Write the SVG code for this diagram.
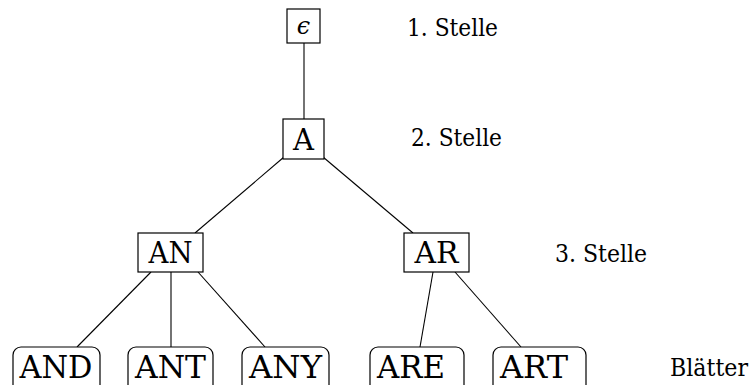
<svg xmlns="http://www.w3.org/2000/svg" width="754" height="385" viewBox="0 0 754 385">
<style>
  .box{fill:#fff;stroke:#000;stroke-width:1.2}
  .lt{fill:#000;text-anchor:middle}
  .in{font-size:29px}
  .lf{font-size:31px}
  .lbl{font-size:24px;fill:#000}
  .edge{stroke:#000;stroke-width:1.1;fill:none}
</style>
<rect width="754" height="385" fill="#fff"/>
<g id="connectors">
  <line class="edge" x1="304" y1="43" x2="304" y2="119"/>
  <line class="edge" x1="284" y1="157" x2="195" y2="233"/>
  <line class="edge" x1="323" y1="157" x2="413" y2="233"/>
  <line class="edge" x1="151" y1="272" x2="77" y2="347"/>
  <line class="edge" x1="171" y1="272" x2="171" y2="347"/>
  <line class="edge" x1="198" y1="272" x2="265" y2="347"/>
  <line class="edge" x1="433" y1="272" x2="420" y2="347"/>
  <line class="edge" x1="455" y1="272" x2="521" y2="347"/>
</g>
<g font-family="DejaVu Serif, serif">
<g id="eps">
  <rect class="box" x="287" y="9" width="33" height="34"/>
  <text class="lt" x="303.5" y="34" font-style="italic" font-size="24">ϵ</text>
</g>
<g id="A">
  <rect class="box" x="283" y="119" width="41" height="40"/>
  <text class="lt in" x="303.5" y="150">A</text>
</g>
<g id="AN">
  <rect class="box" x="138" y="233" width="65" height="39"/>
  <text class="lt in" x="170.5" y="263" textLength="44" lengthAdjust="spacingAndGlyphs">AN</text>
</g>
<g id="AR">
  <rect class="box" x="404" y="233" width="65" height="39"/>
  <text class="lt in" x="436.5" y="263" textLength="44" lengthAdjust="spacingAndGlyphs">AR</text>
</g>
<g id="AND">
  <rect class="box" x="13" y="347" width="87" height="46" rx="8"/>
  <text class="lt lf" x="56" y="378" textLength="73" lengthAdjust="spacingAndGlyphs">AND</text>
</g>
<g id="ANT">
  <rect class="box" x="128" y="347" width="85" height="46" rx="8"/>
  <text class="lt lf" x="170.5" y="378" textLength="71" lengthAdjust="spacingAndGlyphs">ANT</text>
</g>
<g id="ANY">
  <rect class="box" x="242" y="347" width="87" height="46" rx="8"/>
  <text class="lt lf" x="285.5" y="378" textLength="73" lengthAdjust="spacingAndGlyphs">ANY</text>
</g>
<g id="ARE">
  <rect class="box" x="370" y="347" width="94" height="46" rx="8"/>
  <text class="lt lf" x="411" y="378" textLength="68" lengthAdjust="spacingAndGlyphs">ARE</text>
</g>
<g id="ART">
  <rect class="box" x="493" y="347" width="93" height="46" rx="8"/>
  <text class="lt lf" x="534" y="378" textLength="68" lengthAdjust="spacingAndGlyphs">ART</text>
</g>
<g id="labels">
  <text class="lbl" x="407" y="36" textLength="91" lengthAdjust="spacingAndGlyphs">1. Stelle</text>
  <text class="lbl" x="411" y="146" textLength="91" lengthAdjust="spacingAndGlyphs">2. Stelle</text>
  <text class="lbl" x="555" y="262" textLength="92" lengthAdjust="spacingAndGlyphs">3. Stelle</text>
  <text class="lbl" x="670" y="376" textLength="78" lengthAdjust="spacingAndGlyphs">Blätter</text>
</g>
</g>
</svg>
